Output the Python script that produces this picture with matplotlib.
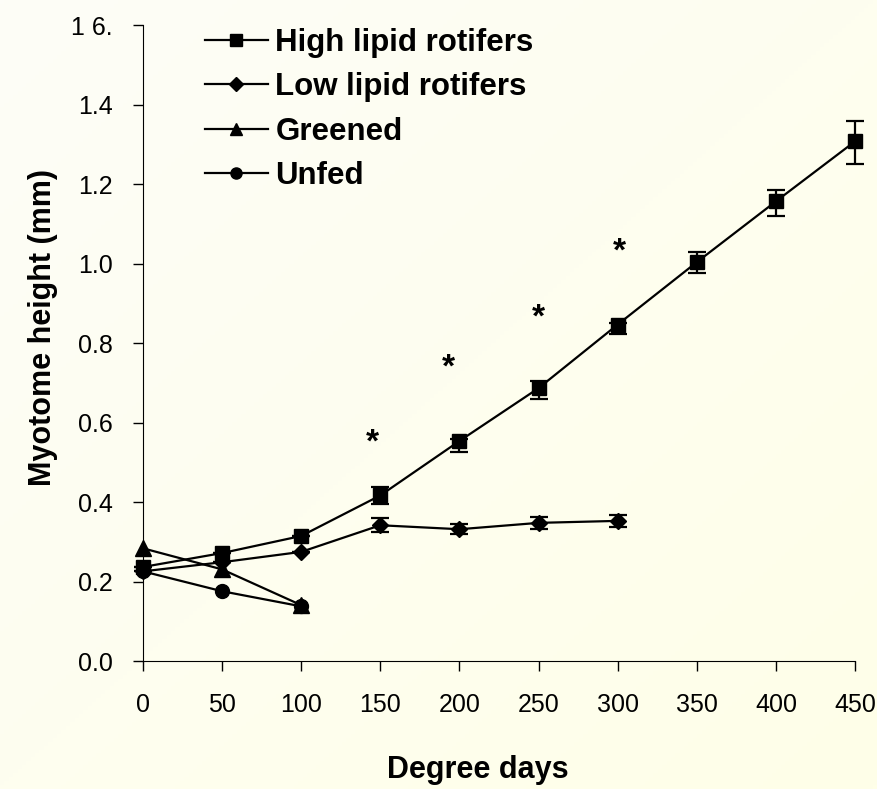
import numpy as np
import matplotlib
matplotlib.use("Agg")
import matplotlib.pyplot as plt
from matplotlib.lines import Line2D

# Degree days
days_high = [0, 50, 100, 150, 200, 250, 300, 350, 400, 450]
days_low = [0, 50, 100, 150, 200, 250, 300]
days_short = [0, 50, 100]

# Myotome height (mm)
high_lipid = [0.237, 0.272, 0.315, 0.417, 0.554, 0.687, 0.847, 1.004, 1.157, 1.308]
high_err_lo = [0.0, 0.0, 0.0, 0.022, 0.028, 0.028, 0.025, 0.027, 0.037, 0.058]
high_err_hi = [0.0, 0.0, 0.0, 0.020, 0.005, 0.017, 0.005, 0.026, 0.028, 0.050]
low_lipid = [0.226, 0.249, 0.275, 0.342, 0.332, 0.348, 0.353]
low_err = [0.0, 0.0, 0.0, 0.017, 0.012, 0.015, 0.016]
greened = [0.284, 0.231, 0.141]
unfed = [0.226, 0.176, 0.138]

star_days = [145, 193, 250, 301]
star_heights = [0.55, 0.737, 0.863, 1.03]

yticks = [0.0, 0.2, 0.4, 0.6, 0.8, 1.0, 1.2, 1.4, 1.6]
ytick_labels = ['0.0', '0.2', '0.4', '0.6', '0.8', '1.0', '1.2', '1.4', '1 6.']
xticks = [0, 50, 100, 150, 200, 250, 300, 350, 400, 450]
series_names = ['High lipid rotifers', 'Low lipid rotifers', 'Greened', 'Unfed']

plt.rcParams['font.family'] = ['Liberation Sans', 'DejaVu Sans']

fig = plt.figure(figsize=(8.77, 7.89), dpi=100)

# pale yellow gradient background
bg = fig.add_axes([0, 0, 1, 1], zorder=-10)
gx, gy = np.meshgrid(np.linspace(0, 1, 200), np.linspace(0, 1, 200))
t = (gx + gy) / 2
grad = np.zeros((200, 200, 3))
grad[..., 0] = (253 + 2 * t) / 255
grad[..., 1] = (253 + 2 * t) / 255
grad[..., 2] = (247 - 15 * t) / 255
bg.imshow(grad, aspect='auto', extent=[0, 1, 0, 1])
bg.axis('off')

ax = fig.add_axes([0.163, 0.162, 0.812, 0.806])
ax.patch.set_alpha(0)

kw = dict(color='black', lw=1.6, capsize=6.5, elinewidth=1.6, capthick=1.6, clip_on=False)
ax.errorbar(days_high, high_lipid, yerr=[high_err_lo, high_err_hi], marker='s', ms=10, **kw)
ax.errorbar(days_low, low_lipid, yerr=low_err, marker='D', ms=8, **kw)
ax.plot(days_short, greened, color='black', lw=1.6, marker='^', ms=11, clip_on=False)
ax.plot(days_short, unfed, color='black', lw=1.6, marker='o', ms=10, clip_on=False)

for d, h in zip(star_days, star_heights):
    ax.text(d, h, '*', ha='center', va='center', fontsize=24, fontweight='bold')

ax.set_xlim(0, 450)
ax.set_ylim(0, 1.6)
ax.set_xticks(xticks)
ax.set_yticks(yticks)
ax.set_yticklabels(ytick_labels)
ax.tick_params(direction='out', length=7, width=1, labelsize=18)
ax.tick_params(axis='y', pad=15)
ax.tick_params(axis='x', pad=16)
ax.spines['top'].set_visible(False)
ax.spines['right'].set_visible(False)

ax.set_xlabel('Degree days', fontsize=22, fontweight='bold')
ax.xaxis.label.set_va('center')
ax.xaxis.set_label_coords(0.47, (661 - 770) / 636)
ax.set_ylabel('Myotome height (mm)', fontsize=22, fontweight='bold')
ax.yaxis.label.set_va('center')
ax.yaxis.set_label_coords(-0.14, 0.524)

markers = ['s', 'D', '^', 'o']
sizes = [8, 7, 9, 8]
handles = [Line2D([], [], color='black', lw=1.6, marker=m, ms=s) for m, s in zip(markers, sizes)]
ax.legend(handles, series_names, loc='upper left', bbox_to_anchor=(205 / 877, 1 - 28 / 789),
          bbox_transform=fig.transFigure, frameon=False, borderpad=0, borderaxespad=0,
          handlelength=2.0, handletextpad=0.25, labelspacing=0.46,
          prop={'size': 22.5, 'weight': 'bold'})

plt.savefig('out.png', dpi=100)
